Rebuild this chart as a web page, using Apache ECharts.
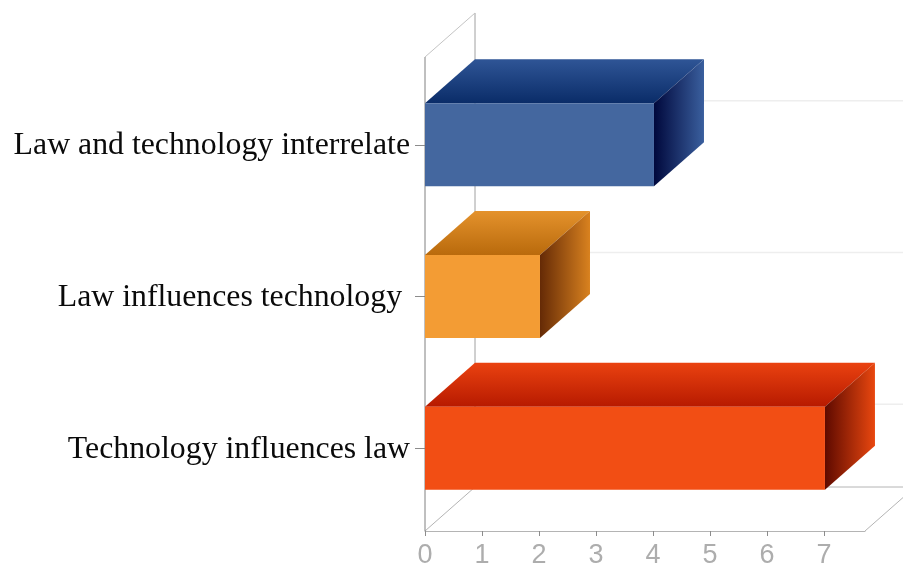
<!DOCTYPE html>
<html><head><meta charset="utf-8">
<style>html,body{margin:0;padding:0;background:#fff}#c{width:903px;height:565px}</style>
<script src="https://cdn.jsdelivr.net/npm/echarts@6/dist/echarts.min.js"></script>
</head><body><div id="c"></div>
<script>
const categories = ['Technology influences law', 'Law influences technology ', 'Law and technology interrelate'];
const values = [7, 2, 4];
const tickValues = [0, 1, 2, 3, 4, 5, 6, 7];
const axisMax = 7.72;
const palettes = [
  {front:'#f24e14', topBack:'#ea4210', topFront:'#b71a00', sideFront:'#5e0a00', sideBack:'#e9470f'},
  {front:'#f39c34', topBack:'#e4922c', topFront:'#b96a0c', sideFront:'#652a06', sideBack:'#d9821f'},
  {front:'#44679f', topBack:'#2f5596', topFront:'#0a2c68', sideFront:'#00083c', sideBack:'#3a5f9e'}
];
const depthX = 50, depthY = -44, barH = 83;
const lineStyle = (c, w) => ({stroke: c, lineWidth: w || 1, fill: null});
const seg = (x1, y1, x2, y2, c, w) => ({type: 'line', shape: {x1, y1, x2, y2}, style: lineStyle(c, w), silent: true});
const grad = (x, y, x2, y2, a, b) => new echarts.graphic.LinearGradient(x, y, x2, y2, [{offset: 0, color: a}, {offset: 1, color: b}]);

function renderFrame(params, api) {
  const g = params.coordSys;
  const top = g.y - 12, bottom = g.y + g.height + 7;
  const x0 = g.x, x1 = g.x + g.width;
  const c = '#b4b4b4', far = 903;
  const ch = [];
  categories.forEach((n, i) => {
    const y = api.coord([0, i])[1] + depthY;
    ch.push(seg(x0 + depthX, y, far, y, '#eeeeee', 1.5));
  });
  ch.push(seg(x0 + depthX, top + depthY, x0 + depthX, bottom + depthY, '#a0a0a0'));
  ch.push(seg(x0, top, x0 + depthX, top + depthY, '#c4c4c4'));
  ch.push(seg(x0, bottom, x0 + depthX, bottom + depthY, c));
  ch.push(seg(x0 + depthX, bottom + depthY, far, bottom + depthY, c));
  ch.push(seg(x1, bottom, x1 + depthX, bottom + depthY, c));
  ch.push(seg(x0, top, x0, bottom, '#808080'));
  return {type: 'group', children: ch};
}

function renderBar(params, api) {
  const v = api.value(0), idx = api.value(1);
  const p0 = api.coord([0, idx]), p1 = api.coord([v, idx]);
  const x0 = p0[0], x1 = p1[0] + 1, yT = p0[1] - barH / 2, yB = p0[1] + barH / 2;
  const pal = palettes[idx];
  const dx = depthX, dy = depthY;
  return {type: 'group', children: [
    {type: 'polygon', shape: {points: [[x0, yT], [x1, yT], [x1 + dx, yT + dy], [x0 + dx, yT + dy]]},
      style: {fill: grad(0, 0, 0, 1, pal.topBack, pal.topFront)}},
    {type: 'polygon', shape: {points: [[x1, yT], [x1 + dx, yT + dy], [x1 + dx, yB + dy], [x1, yB]]},
      style: {fill: grad(0, 0, 1, 0, pal.sideFront, pal.sideBack)}},
    {type: 'rect', shape: {x: x0, y: yT, width: x1 - x0, height: barH}, style: {fill: pal.front}}
  ]};
}

const chart = echarts.init(document.getElementById('c'));
chart.setOption({
  animation: false,
  backgroundColor: '#fff',
  grid: {left: 425, right: 38, top: 69, bottom: 41, containLabel: false, outerBoundsMode: 'none'},
  xAxis: {
    type: 'value', min: 0, max: axisMax, offset: 7,
    splitLine: {show: false},
    axisLine: {show: true, lineStyle: {color: '#b4b4b4'}},
    axisTick: {show: true, length: 5, customValues: tickValues, lineStyle: {color: '#8c8c8c'}},
    axisLabel: {customValues: tickValues, color: '#adadad', fontFamily: 'Liberation Sans', fontSize: 27, margin: 11}
  },
  yAxis: {
    type: 'category', data: categories,
    axisLine: {show: false},
    axisTick: {show: true, alignWithLabel: true, length: 10, lineStyle: {color: '#8c8c8c'}},
    axisLabel: {color: '#0a0a0a', fontFamily: 'Liberation Serif', fontSize: 31.8, margin: 15, verticalAlign: 'top', lineHeight: 2}
  },
  series: [
    {type: 'custom', coordinateSystem: 'cartesian2d', clip: false, z: 1, silent: true,
      data: [[0, 0]], encode: {x: 0, y: 1}, renderItem: renderFrame},
    {type: 'custom', coordinateSystem: 'cartesian2d', clip: false, z: 2, silent: true,
      data: values.map((v, i) => [v, i]), encode: {x: 0, y: 1}, renderItem: renderBar}
  ]
});
</script></body></html>
